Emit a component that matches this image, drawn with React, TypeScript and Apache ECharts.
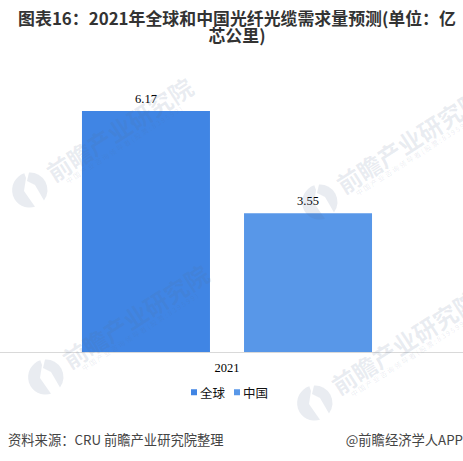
import React, { useEffect, useRef } from "react";
import * as echarts from "echarts";

const categories = ["2021"];
const globalValues = [6.17];
const chinaValues = [3.55];
const titleText = "图表16：2021年全球和中国光纤光缆需求量预测(单位：亿\n芯公里)";
const sourceText = "资料来源：CRU 前瞻产业研究院整理";
const creditText = "@前瞻经济学人APP";
const wmMain = "前瞻产业研究院";
const wmSub = "中 国 产 业 咨 询 领 导 者 ( 股 票 : 8 3 9 5 9 9 )";
const wmAnchors = [
  [30, 190],
  [46, 377],
  [320, 202],
  [315, 403],
];

echarts.graphic.registerShape(
  "wmlogo",
  echarts.graphic.extendPath(
    "M-5.7,-16.7 A17.5,17.5 0 0 0 5,16.8 L-6,1 L-4,-12 Z M-1,-17.5 A17.5,17.5 0 0 1 14,10.5 L5,-5 L-3,-9 Z",
    {}
  ) as any
);

const WM = "rgba(86,109,147,0.13)";

function watermark(cx: number, cy: number) {
  const rot = 0.57;
  const c = Math.cos(rot);
  const s = Math.sin(rot);
  return [
    { type: "wmlogo", x: cx, y: cy, z: 50, silent: true, style: { fill: WM } },
    {
      type: "text", x: cx + 22 * c, y: cy - 22 * s - 4, rotation: rot, z: 50, silent: true,
      style: { text: wmMain, fill: WM, font: "bold 24px 'Noto Sans CJK SC'", textAlign: "left", textVerticalAlign: "middle" },
    },
    {
      type: "text", x: cx + 33 * c + 16 * s, y: cy - 33 * s + 16 * c - 4, rotation: rot, z: 50, silent: true,
      style: { text: wmSub, fill: WM, font: "7px 'Noto Sans CJK SC'", textAlign: "left", textVerticalAlign: "middle" },
    },
  ];
}

export default function App() {
  const ref = useRef<HTMLDivElement>(null);
  useEffect(() => {
    document.body.style.margin = "0";
    const chart = echarts.init(ref.current!, undefined, { renderer: "svg" });
    const serif = "'Liberation Serif', serif";
    const label = { show: true, position: "top", distance: 6, color: "#000", fontSize: 12.5, fontFamily: serif };
    chart.setOption({
      animation: false,
      backgroundColor: "#fff",
      title: {
        text: titleText,
        left: 232,
        top: 4,
        textAlign: "center",
        textStyle: { fontFamily: "'Noto Sans CJK SC'", fontWeight: "bold", fontSize: 16.9, lineHeight: 17, color: "#333" },
      },
      grid: { left: 0, right: 9, top: 78.6, height: 273.4 },
      legend: {
        left: 191,
        top: 386,
        icon: "rect",
        itemWidth: 6,
        itemHeight: 6,
        itemGap: 9,
        padding: 0,
        textStyle: { fontFamily: "'Noto Sans CJK SC'", fontSize: 12.5, color: "#111", padding: [0, 0, 0, -2] },
        data: ["全球", "中国"],
      },
      xAxis: {
        type: "category",
        data: categories,
        axisLine: { lineStyle: { color: "#d9d9d9", width: 1 } },
        axisTick: { show: false },
        axisLabel: { color: "#000", fontSize: 12.5, fontFamily: serif, margin: 9 },
      },
      yAxis: { type: "value", min: 0, max: 7, show: false },
      series: [
        { name: "全球", type: "bar", data: globalValues, barWidth: 128, barGap: "26.6%", itemStyle: { color: "#4085e4" }, label },
        { name: "中国", type: "bar", data: chinaValues, barWidth: 128, barGap: "26.6%", itemStyle: { color: "#5897e8" }, label },
      ],
      graphic: [
        { type: "line", silent: true, shape: { x1: 453, y1: 352.5, x2: 463, y2: 352.5 }, style: { stroke: "#d9d9d9", lineWidth: 1 } },
        ...wmAnchors.flatMap(([x, y]) => watermark(x, y)),
        {
          type: "text", left: 8, top: 433, silent: true,
          style: { text: sourceText, fill: "#444", font: "13.3px 'Noto Sans CJK SC'" },
        },
        {
          type: "text", right: 0, top: 433, silent: true,
          style: { text: creditText, fill: "#444", font: "13.3px 'Noto Sans CJK SC'" },
        },
      ],
    });
    return () => chart.dispose();
  }, []);
  return <div ref={ref} style={{ width: 463, height: 461 }} />;
}
